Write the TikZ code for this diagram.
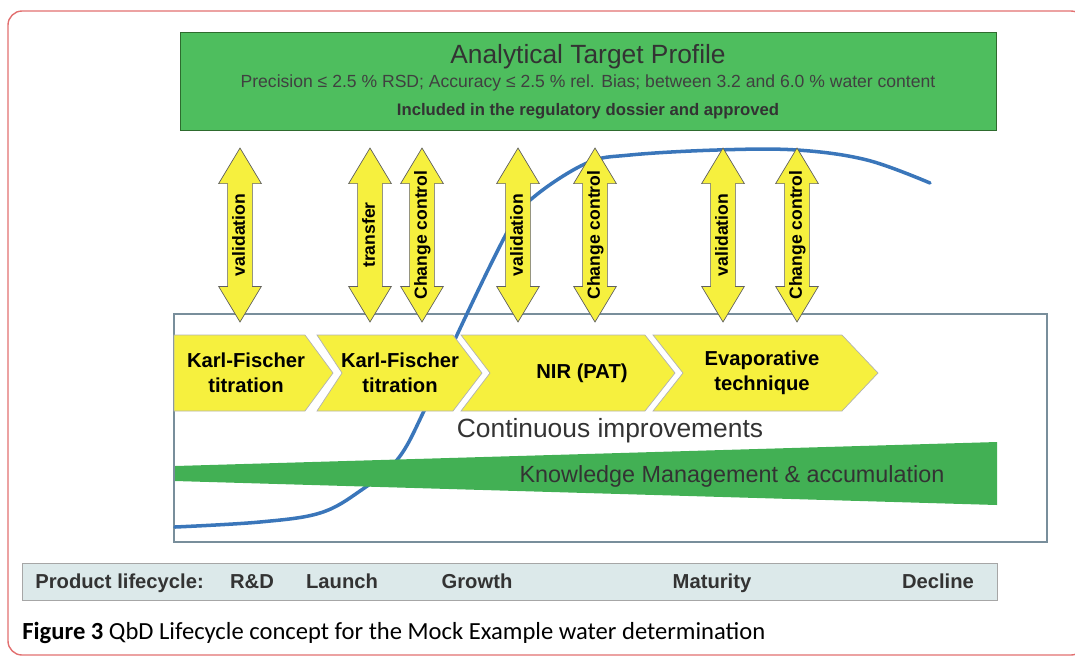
\documentclass[tikz,border=0pt]{standalone}
\usepackage{fontspec}
\setmainfont{Liberation Sans}
\newfontfamily\capfont{Carlito}
\usetikzlibrary{shapes.arrows}
\definecolor{atpgreen}{RGB}{78,190,94}
\definecolor{kmgreen}{RGB}{66,176,84}
\definecolor{arryellow}{RGB}{246,240,62}
\definecolor{curveblue}{RGB}{58,118,186}
\definecolor{barfill}{RGB}{220,233,234}
\definecolor{framered}{RGB}{226,112,112}
\definecolor{boxline}{RGB}{120,142,155}
\tikzset{dbl/.append style={double arrow, draw=gray!75!black, fill=arryellow, rotate=90,
  minimum height=3.48cm, double arrow head extend=0.18cm, double arrow tip angle=62,
  inner xsep=0pt, inner ysep=2.1pt, text height=7.5pt, text depth=2pt,
  font=\bfseries\fontsize{10}{12}\selectfont}}
\tikzset{chev/.append style={fill=arryellow, draw=gray!60}}
\tikzset{cht/.append style={align=center, font=\bfseries\fontsize{11.5}{14}\selectfont}}
\tikzset{lc/.append style={anchor=base, inner sep=0pt, font=\bfseries\fontsize{11.5}{14}\selectfont, text=black!80}}

\begin{document}
\begin{tikzpicture}[x=0.02cm,y=-0.02cm]
                \useasboundingbox (0,0) rectangle (1075,657);
                % frame and boxes
                \draw[framered, line width=0.8pt, rounded corners=8pt] (8,11) rectangle (1085,655);
                \draw[fill=atpgreen, draw=gray!60!green!60!black] (180,32) rectangle (996,130);
                \draw[boxline, line width=0.6pt] (174,314) rectangle (1047,542);
                \draw[curveblue, line width=2pt, line cap=round] plot[smooth, tension=0.6] coordinates {(175,527) (260,522) (320,513) (360,491) (397,460) (423,413) (457,335) (510,227) (535,196) (587,163) (630,155) (717,150) (797,150) (867,160) (930,183)};
                \fill[kmgreen] (175,466) -- (997,442) -- (997,505) -- (175,481) -- cycle;
                % chevrons
                \draw[chev] (174,335) -- (305,335) -- (333,373) -- (305,411) -- (174,411) -- cycle;
                \draw[chev] (317,335) -- (453,335) -- (482,373) -- (453,411) -- (317,411) -- (342,373) -- cycle;
                \draw[chev] (461,335) -- (645,335) -- (675,373) -- (645,411) -- (461,411) -- (490,373) -- cycle;
                \draw[chev] (653,335) -- (842,335) -- (878,373) -- (842,411) -- (653,411) -- (683,373) -- cycle;
                \node[cht] (kf1) at (246,373) {Karl-Fischer\\titration};
                \node[cht] (kf2) at (400,373) {Karl-Fischer\\titration};
                \node[cht] (nir) at (582,373) {NIR (PAT)};
                \node[cht] (evap) at (762,373) {Evaporative\\technique};
                % arrows
                \node[dbl] (val1) at (240,235) {validation};
                \node[dbl] (trans) at (370,235) {transfer};
                \node[dbl] (cc1) at (422,235) {Change control};
                \node[dbl] (val2) at (518,235) {validation};
                \node[dbl] (cc2) at (595,235) {Change control};
                \node[dbl] (val3) at (723,235) {validation};
                \node[dbl] (cc3) at (797,235) {Change control};
                % texts
                \node[font=\fontsize{15}{18}\selectfont, text=black!80] (atp) at (588,57) {Analytical Target Profile};
                \node[font=\fontsize{10}{12}\selectfont, text=black!75] (spec) at (588,83) {Precision ≤ 2.5 \% RSD; Accuracy ≤ 2.5 \% rel. Bias; between 3.2 and 6.0 \% water content};
                \node[font=\bfseries\fontsize{9.5}{12}\selectfont, text=black!80] (dossier) at (588,111) {Included in the regulatory dossier and approved};
                \node[font=\fontsize{15}{18}\selectfont, text=black!80] (ci) at (610,431) {Continuous improvements};
                \node[font=\fontsize{13.3}{16}\selectfont, text=black!80] (km) at (732,476) {Knowledge Management \& accumulation};
                % lifecycle bar
                \draw[fill=barfill, draw=gray!70] (22,563) rectangle (997,600);
                \node[lc, anchor=base west] (plc) at (35,588) {Product lifecycle:};
                \node[lc] (rd) at (252,588) {R\&D};
                \node[lc] (launch) at (342,588) {Launch};
                \node[lc] (growth) at (477,588) {Growth};
                \node[lc] (maturity) at (712,588) {Maturity};
                \node[lc] (decline) at (938,588) {Decline};
                \node[anchor=west, inner sep=0pt, font=\capfont\fontsize{14}{17}\selectfont] (cap) at (22,633) {\textbf{Figure 3} QbD Lifecycle concept for the Mock Example water determination};
\end{tikzpicture}
\end{document}
